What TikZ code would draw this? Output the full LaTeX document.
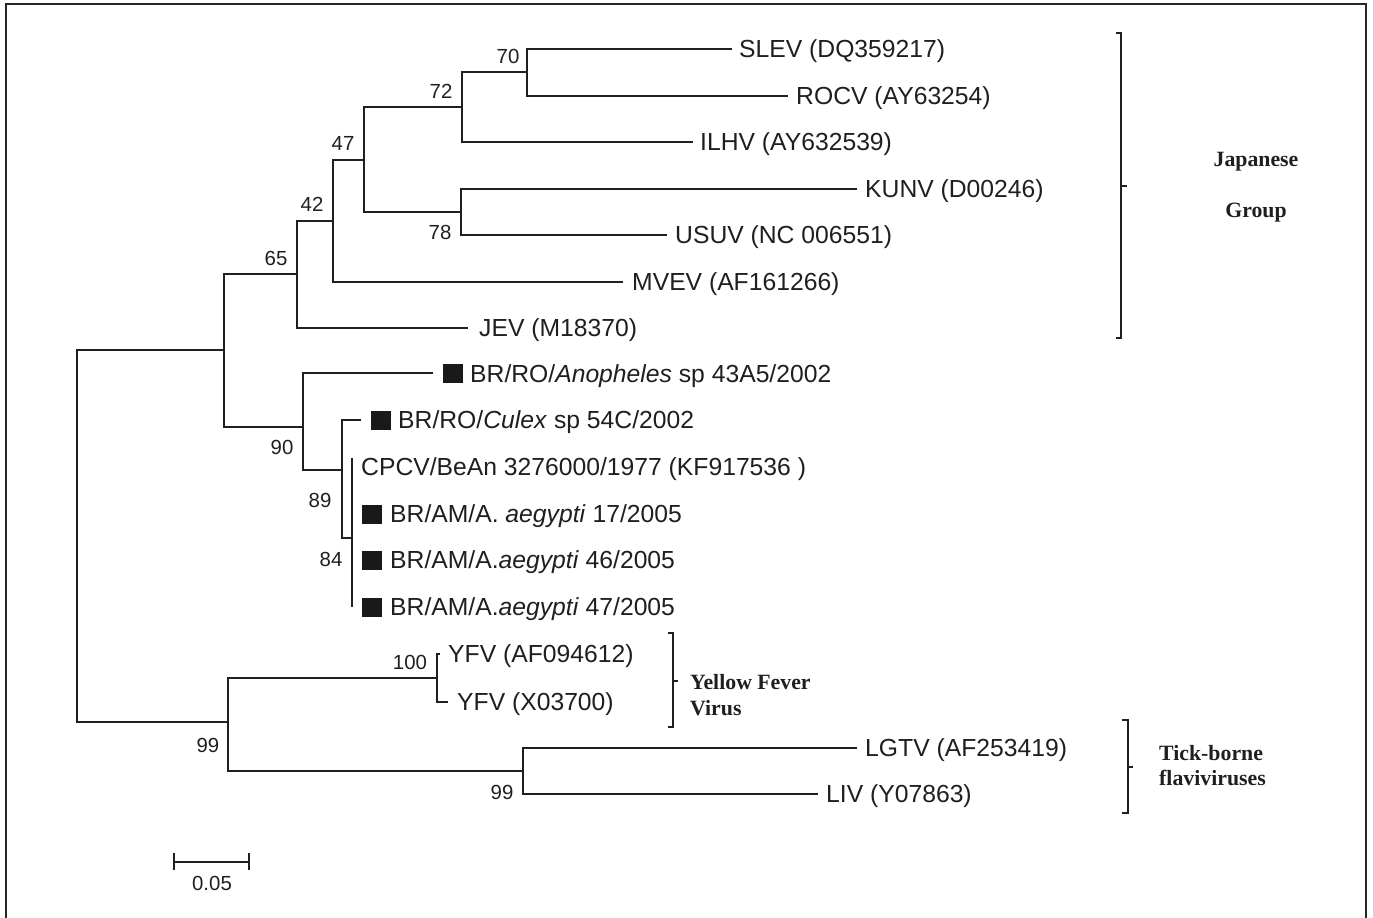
\documentclass[tikz,border=0pt]{standalone}
\usepackage{fontspec}
\setmainfont{Liberation Sans}
\newfontfamily\tnr{Liberation Serif}
\begin{document}
\begin{tikzpicture}[x=1pt,y=-1pt,
  br/.style={line width=1.5pt, draw=black!88},
  leaf/.style={inner sep=0pt, anchor=west, text height=17.7pt, text depth=0pt,
    font=\fontsize{24.7}{29}\selectfont, text=black!88},
  sq/.style={fill=black!90, draw=none, minimum width=20pt, minimum height=19pt, inner sep=0pt, anchor=west},
  boot/.style={inner sep=0pt, font=\fontsize{20.4}{24}\selectfont, text=black!88},
  grp/.style={inner sep=0pt, font=\tnr\bfseries\fontsize{21.8}{26}\selectfont, text=black!88},
  brk/.style={line width=2.5pt, draw=black!88}]
\useasboundingbox (0,0) rectangle (1373,918);
% frame
\draw[line width=2.5pt, draw=black!85] (6,918) -- (6,4) -- (1366,4) -- (1366,918);

% internal nodes
\coordinate (root) at (77,536);
\coordinate (A) at (224,350);
\coordinate (B) at (297,274);
\coordinate (C) at (333,221);
\coordinate (D) at (364,160);
\coordinate (E) at (462,107);
\coordinate (F) at (527,72);
\coordinate (G) at (461,212);
\coordinate (H) at (303,427);
\coordinate (I) at (342,470);
\coordinate (J) at (352,538);
\coordinate (K) at (228,722);
\coordinate (L) at (437,678);
\coordinate (M) at (523,771);

% leaves
\node[leaf] (slev) at (739,49) {SLEV (DQ359217)};
\node[leaf] (rocv) at (796,96) {ROCV (AY63254)};
\node[leaf] (ilhv) at (700,142) {ILHV (AY632539)};
\node[leaf] (kunv) at (865,189) {KUNV (D00246)};
\node[leaf] (usuv) at (675,235) {USUV (NC 006551)};
\node[leaf] (mvev) at (632,282) {MVEV (AF161266)};
\node[leaf] (jev) at (479,328) {JEV (M18370)};
\node[sq] (sqan) at (443,373) {};
\node[leaf] (anoph) at (470,374) {BR/RO/\textit{Anopheles} sp 43A5/2002};
\node[sq] (sqcu) at (371,420) {};
\node[leaf] (culex) at (398,420) {BR/RO/\textit{Culex} sp 54C/2002};
\node[leaf] (cpcv) at (361,467) {CPCV/BeAn 3276000/1977 (KF917536 )};
\node[sq] (sqa) at (362,514) {};
\node[leaf] (a17) at (390,514) {BR/AM/A. \textit{aegypti} 17/2005};
\node[sq] (sqb) at (362,560) {};
\node[leaf] (a46) at (390,560) {BR/AM/A.\textit{aegypti} 46/2005};
\node[sq] (sqc) at (362,607) {};
\node[leaf] (a47) at (390,607) {BR/AM/A.\textit{aegypti} 47/2005};
\node[leaf] (yfv1) at (448,654) {YFV (AF094612)};
\node[leaf] (yfv2) at (457,702) {YFV (X03700)};
\node[leaf] (lgtv) at (865,748) {LGTV (AF253419)};
\node[leaf] (liv) at (826,794) {LIV (Y07863)};

% branches
\draw[br] (root) |- (A);
\draw[br] (root) |- (K);
\draw[br] (A) |- (B);
\draw[br] (A) |- (H);
\draw[br] (B) |- (C);
\draw[br, shorten >=11pt] (B) |- (jev.west);
\draw[br] (C) |- (D);
\draw[br, shorten >=9pt] (C) |- (mvev.west);
\draw[br] (D) |- (E);
\draw[br] (D) |- (G);
\draw[br] (E) |- (F);
\draw[br, shorten >=7pt] (E) |- (ilhv.west);
\draw[br, shorten >=7pt] (F) |- (slev.west);
\draw[br, shorten >=8pt] (F) |- (rocv.west);
\draw[br, shorten >=8pt] (G) |- (kunv.west);
\draw[br, shorten >=8pt] (G) |- (usuv.west);
\draw[br, shorten >=10pt] (H) |- (sqan.west);
\draw[br] (H) |- (I);
\draw[br, shorten >=10pt] (I) |- (sqcu.west);
\draw[br] (I) |- (J);
\draw[br] (J |- cpcv.north) -- (J |- sqc.west);
\draw[br] (K) |- (L);
\draw[br] (K) |- (M);
\draw[br, shorten >=8pt] (L) |- (yfv1.west);
\draw[br, shorten >=9pt] (L) |- (yfv2.west);
\draw[br, shorten >=8pt] (M) |- (lgtv.west);
\draw[br, shorten >=8pt] (M) |- (liv.west);

% bootstrap values
\node[boot] (b70) at (508,56) {70};
\node[boot] (b72) at (441,91) {72};
\node[boot] (b47) at (343,143) {47};
\node[boot] (b42) at (312,204) {42};
\node[boot] (b65) at (276,258) {65};
\node[boot] (b78) at (440,232) {78};
\node[boot] (b90) at (282,447) {90};
\node[boot] (b89) at (320,500) {89};
\node[boot] (b84) at (331,559) {84};
\node[boot] (b100) at (410,662) {100};
\node[boot] (b99a) at (208,745) {99};
\node[boot] (b99b) at (502,792) {99};

% group brackets
\draw[brk] (1116,33) -- (1121,33) -- (1121,338) -- (1116,338);
\draw[brk] (1121,186) -- (1127,186);
\node[grp] (jap) at (1256,162) {Japanese};
\node[grp] (grp) at (1256,213) {Group};

\draw[brk] (668,633) -- (673,633) -- (673,727) -- (668,727);
\draw[brk] (673,681) -- (678,681);
\node[grp, anchor=west] (yf1) at (690,682) {Yellow Fever};
\node[grp, anchor=west] (yf2) at (690,708) {Virus};

\draw[brk] (1122,720) -- (1128,720) -- (1128,813) -- (1122,813);
\draw[brk] (1128,767) -- (1133,767);
\node[grp, anchor=west] (tb1) at (1159,753) {Tick-borne};
\node[grp, anchor=west] (tb2) at (1159,778) {flaviviruses};

% scale bar
\coordinate (s1) at (174,862);
\coordinate (s2) at (249,862);
\coordinate (s1t) at (174,853);
\coordinate (s1b) at (174,870);
\coordinate (s2t) at (249,853);
\coordinate (s2b) at (249,870);
\draw[br] (s1) -- (s2);
\draw[br] (s1t) -- (s1b);
\draw[br] (s2t) -- (s2b);
\node[boot] (sc) at (212,883) {0.05};
\end{tikzpicture}
\end{document}
